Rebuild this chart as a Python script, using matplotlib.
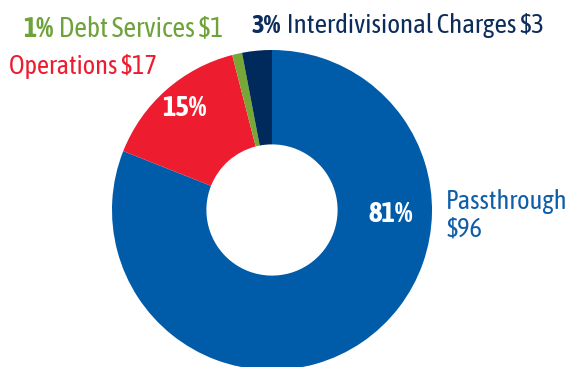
import matplotlib
matplotlib.use("Agg")
import matplotlib.pyplot as plt
from matplotlib import font_manager, patheffects

# pick a condensed sans, preferably one with a real bold face
faces = font_manager.fontManager.ttflist


def max_weight(name):
    ws = []
    for f in faces:
        if f.name == name:
            w = f.weight
            if not isinstance(w, int):
                w = font_manager.weight_dict.get(w, 400)
            ws.append(w)
    return max(ws) if ws else 0


condensed = sorted({f.name for f in faces
                    if 'Narrow' in f.name or 'Condensed' in f.name})
with_bold = [n for n in condensed if max_weight(n) >= 600]
family = (with_bold or condensed or ['Roboto'])[0]
has_bold = max_weight(family) >= 600
plt.rcParams['font.family'] = [family, 'DejaVu Sans']

# budget split, drawn clockwise from 12 o'clock
names = ['Passthrough', 'Operations', 'Debt Services', 'Interdivisional Charges']
dollars = [96, 17, 1, 3]
percents = [81, 15, 1, 3]
wedge_colors = ['#005ca9', '#ed1c2e', '#76a737', '#002a5c']
text_colors = ['#0f5ea8', '#ed1c2e', '#6ea23a', '#0c2d5c']

W, H = 568, 367
fig = plt.figure(figsize=(W / 100, H / 100), dpi=100)
ax = fig.add_axes([0, 0, 1, 1])

cx, cy, r = 272, 157, 160
ax.pie(percents, colors=wedge_colors, startangle=90, counterclock=False,
       center=(cx, cy), radius=r, frame=True,
       wedgeprops=dict(width=r * 0.59, linewidth=0))
ax.set_xlim(0, W)
ax.set_ylim(0, H)
ax.set_aspect('equal')
ax.axis('off')

fs = 19


def bold_kw(color):
    kw = dict(fontweight='bold')
    if not has_bold:
        kw['path_effects'] = [patheffects.withStroke(linewidth=1.4,
                                                     foreground=color)]
    return kw


# percentages inside the ring
ax.text(391, 153, f'{percents[0]}%', color='white', fontsize=20.5,
        ha='center', va='center', **bold_kw('white'))
ax.text(184, 259, f'{percents[1]}%', color='white', fontsize=20.5,
        ha='center', va='center', **bold_kw('white'))

# outside labels
ax.text(446, 158, names[0], color=text_colors[0], fontsize=fs,
        ha='left', va='baseline')
ax.text(446, 131, f'${dollars[0]}', color=text_colors[0], fontsize=fs,
        ha='left', va='baseline')
ax.text(9, 293, f'{names[1]} ${dollars[1]}', color=text_colors[1],
        fontsize=fs, ha='left', va='baseline')


def split_label(x, y, pct, rest, color, size):
    b = ax.text(x, y, f'{pct}%', color=color, fontsize=size,
                ha='left', va='baseline', **bold_kw(color))
    ax.annotate(' ' + rest, xy=(1, 0), xycoords=b, xytext=(1, 0),
                textcoords='offset points', color=color,
                fontsize=size, ha='left', va='bottom')


split_label(23, 330, percents[2], f'{names[2]} ${dollars[2]}',
            text_colors[2], 20)
split_label(252, 334, percents[3], f'{names[3]} ${dollars[3]}',
            text_colors[3], 19.5)

fig.savefig('out.png', dpi=100)
